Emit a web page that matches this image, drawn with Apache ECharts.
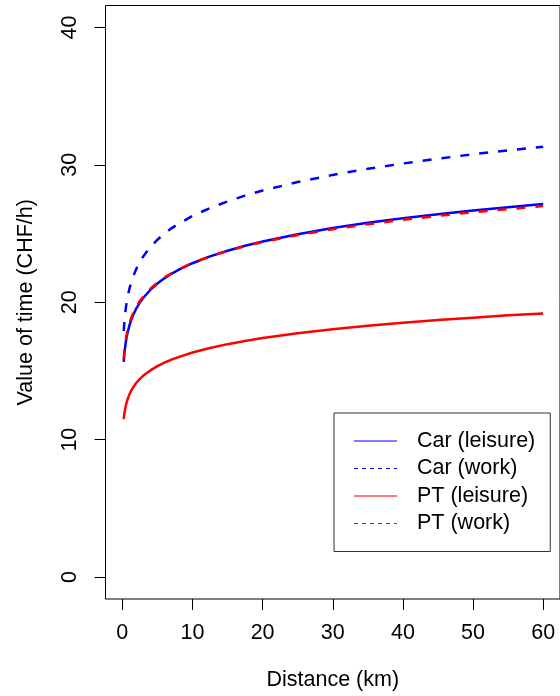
<!DOCTYPE html>
<html>
<head>
<meta charset="utf-8">
<script src="https://cdn.jsdelivr.net/npm/echarts@6/dist/echarts.min.js"></script>
<style>
  html, body { margin: 0; padding: 0; background: #fff; }
  #chart { width: 560px; height: 696px; }
</style>
</head>
<body>
<div id="chart"></div>
<script>
// Distance in km
const distance = [0.2, 0.25, 0.3, 0.4, 0.5, 0.6, 0.75, 1, 1.25, 1.5, 2, 2.5, 3, 4, 5, 6, 7, 8, 10, 12.5, 15, 17.5, 20, 25, 30, 35, 40, 45, 50, 55, 60];

// Value of time in CHF/h
const carLeisure = [15.66, 16.00, 16.28, 16.74, 17.11, 17.41, 17.79, 18.29, 18.69, 19.02, 19.56, 19.98, 20.33, 20.91, 21.36, 21.74, 22.07, 22.35, 22.84, 23.34, 23.75, 24.11, 24.42, 24.95, 25.40, 25.78, 26.11, 26.41, 26.68, 26.92, 27.15];
const carWork    = [17.91, 18.31, 18.64, 19.17, 19.59, 19.95, 20.39, 20.97, 21.43, 21.82, 22.44, 22.94, 23.35, 24.02, 24.55, 25.00, 25.38, 25.71, 26.28, 26.86, 27.34, 27.76, 28.13, 28.75, 29.27, 29.71, 30.10, 30.45, 30.77, 31.06, 31.32];
const ptLeisure  = [11.49, 11.72, 11.92, 12.23, 12.48, 12.68, 12.94, 13.28, 13.55, 13.77, 14.14, 14.42, 14.66, 15.04, 15.35, 15.60, 15.82, 16.01, 16.34, 16.67, 16.95, 17.18, 17.39, 17.74, 18.04, 18.29, 18.51, 18.71, 18.88, 19.05, 19.19];
const ptWork     = [15.89, 16.22, 16.50, 16.94, 17.30, 17.59, 17.96, 18.45, 18.84, 19.16, 19.68, 20.09, 20.44, 20.99, 21.43, 21.80, 22.11, 22.39, 22.86, 23.34, 23.73, 24.08, 24.38, 24.89, 25.32, 25.68, 26.00, 26.29, 26.55, 26.78, 27.00];

const xTicks = [0, 10, 20, 30, 40, 50, 60];
const yTicks = [0, 10, 20, 30, 40];

const seriesNames = ['Car (leisure)', 'Car (work)', 'PT (leisure)', 'PT (work)'];
const BLUE = '#0000ff';
const RED = '#ff0000';

const FONT = '"Liberation Sans", Arial, Helvetica, sans-serif';
const FS = 21.5;

// thin legend keys: a solid bar and a row of short dashes
const SOLID_KEY = 'path://M0,0h43v1h-43z';
const DASHED_KEY = 'path://M0,0h4v1h-4zM8,0h4v1h-4zM16,0h4v1h-4zM24,0h4v1h-4zM32,0h4v1h-4zM40,0h3v1h-3z';

function pairs(ys) {
  return distance.map((d, i) => [d, ys[i]]);
}

function lineSeries(name, ys, color, dashed) {
  return {
    name: name,
    type: 'line',
    data: pairs(ys),
    showSymbol: false,
    symbol: 'none',
    smooth: false,
    animation: false,
    lineStyle: { color: color, width: 2.5, type: dashed ? [9, 10] : 'solid', cap: 'butt', join: 'round' },
    itemStyle: { color: color }
  };
}

function legendItem(name, color, dashed) {
  return {
    name: name,
    icon: dashed ? DASHED_KEY : SOLID_KEY,
    itemStyle: { color: color, borderWidth: 0, opacity: 1 }
  };
}

const chart = echarts.init(document.getElementById('chart'), null, { renderer: 'canvas' });

chart.setOption({
  backgroundColor: '#ffffff',
  animation: false,
  textStyle: { fontFamily: FONT },
  grid: {
    left: 105.5,
    top: 5.5,
    width: 473,
    height: 594,
    show: true,
    borderColor: '#000',
    borderWidth: 1,
    backgroundColor: 'transparent',
    containLabel: false
  },
  xAxis: {
    type: 'value',
    min: -2.4,
    max: 62.4,
    name: 'Distance (km)',
    nameLocation: 'middle',
    nameGap: 70,
    nameTextStyle: { fontSize: FS, color: '#000', fontFamily: FONT },
    axisLine: { show: false, onZero: false },
    splitLine: { show: false },
    axisTick: {
      show: true, inside: false, length: 11,
      customValues: xTicks,
      lineStyle: { color: '#000', width: 1 }
    },
    axisLabel: {
      show: true, margin: 23,
      customValues: xTicks,
      fontSize: FS, color: '#000', fontFamily: FONT
    }
  },
  yAxis: {
    type: 'value',
    min: -1.6,
    max: 41.6,
    name: 'Value of time (CHF/h)',
    nameLocation: 'middle',
    nameRotate: 90,
    nameGap: 68,
    nameTextStyle: { fontSize: FS, color: '#000', fontFamily: FONT },
    axisLine: { show: false, onZero: false },
    splitLine: { show: false },
    axisTick: {
      show: true, inside: false, length: 11,
      customValues: yTicks,
      lineStyle: { color: '#000', width: 1 }
    },
    axisLabel: {
      show: true, margin: 24, rotate: 90,
      customValues: yTicks,
      fontSize: FS, color: '#000', fontFamily: FONT
    }
  },
  legend: {
    orient: 'vertical',
    left: 334,
    top: 413,
    padding: [17, 15, 17, 20],
    borderColor: '#333',
    borderWidth: 1,
    backgroundColor: '#fff',
    itemWidth: 43,
    itemHeight: 14,
    itemGap: 5.5,
    selectedMode: false,
    textStyle: { fontSize: FS, color: '#000', fontFamily: FONT, lineHeight: 22, padding: [0, 0, 0, 15] },
    data: [
      legendItem(seriesNames[0], BLUE, false),
      legendItem(seriesNames[1], BLUE, true),
      legendItem(seriesNames[2], RED, false),
      legendItem(seriesNames[3], RED, true)
    ]
  },
  series: [
    lineSeries(seriesNames[0], carLeisure, BLUE, false),
    lineSeries(seriesNames[1], carWork, BLUE, true),
    lineSeries(seriesNames[2], ptLeisure, RED, false),
    lineSeries(seriesNames[3], ptWork, RED, true)
  ]
});
</script>
</body>
</html>
